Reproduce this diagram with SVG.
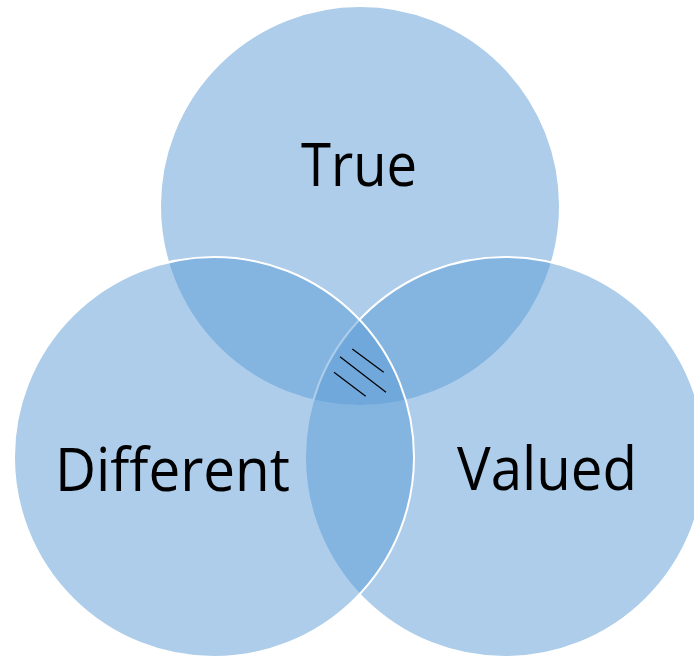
<svg xmlns="http://www.w3.org/2000/svg" width="694" height="658" viewBox="0 0 694 658">
<style>
.c{fill:#5b9bd5;fill-opacity:0.5;stroke:#ffffff;stroke-width:2}
.t{font-family:"Open Sans","Noto Sans","Liberation Sans",sans-serif;font-size:60px;fill:#000000;text-anchor:middle}
.h{stroke:#000000;stroke-width:1.2;fill:none}
</style>
<rect width="694" height="658" fill="#ffffff"/>
<g id="node-true">
<circle class="c" cx="360" cy="206" r="200" stroke="none"/>
</g>
<g id="node-valued">
<circle class="c" cx="505" cy="457" r="200"/>
</g>
<g id="node-different">
<circle class="c" cx="214" cy="457" r="200"/>
</g>
<g id="labels">
<text class="t" x="359" y="186" textLength="116" lengthAdjust="spacingAndGlyphs">True</text>
<text class="t" x="172.5" y="491" textLength="235" lengthAdjust="spacingAndGlyphs">Different</text>
<text class="t" x="547" y="490" textLength="180" lengthAdjust="spacingAndGlyphs">Valued</text>
</g>
<g id="hatch">
<line class="h" x1="352.3" y1="349" x2="383.7" y2="372.3"/>
<line class="h" x1="340" y1="356.7" x2="386" y2="392.3"/>
<line class="h" x1="334" y1="372.3" x2="365.7" y2="396.3"/>
</g>
</svg>
